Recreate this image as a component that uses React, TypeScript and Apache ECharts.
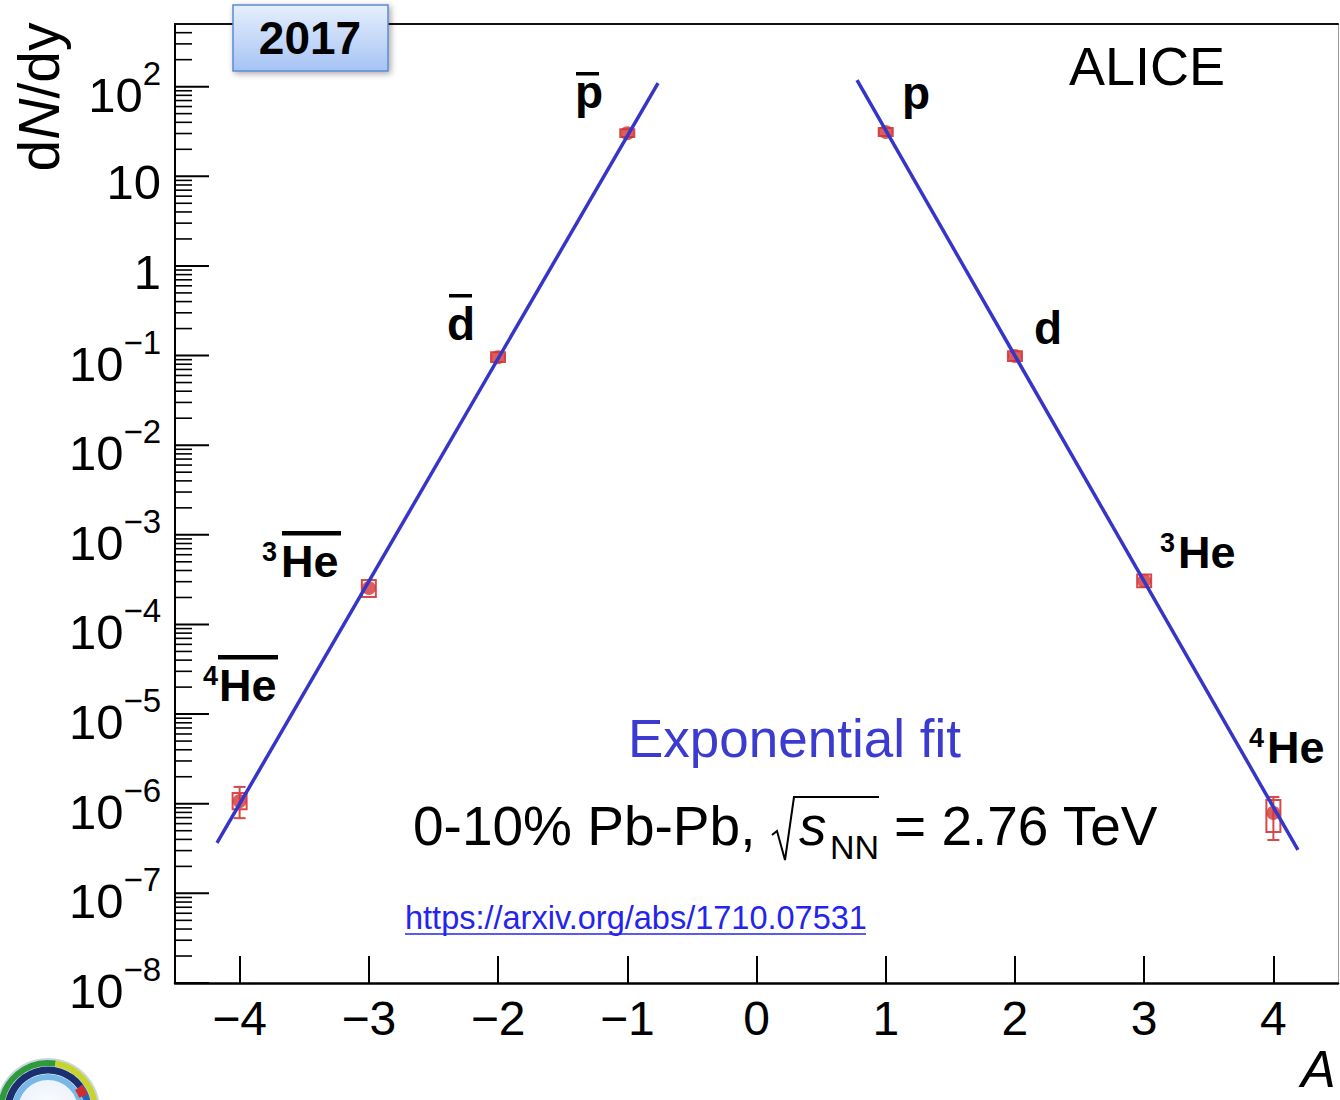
import React, { useEffect, useRef } from "react";
import * as echarts from "echarts";

const FONT = "'Liberation Sans', Arial, Helvetica, sans-serif";

// ---- axes ----
const xMin = -4.5;
const xMax = 4.5;
const xTicks = [-4, -3, -2, -1, 0, 1, 2, 3, 4];
const xTickLabels = ["−4", "−3", "−2", "−1", "0", "1", "2", "3", "4"];

const yMin = 1e-8;
const yMax = 500;
const yDecades = [1e-8, 1e-7, 1e-6, 1e-5, 1e-4, 1e-3, 1e-2, 1e-1, 1, 10, 100];
const yDecadeLabels = [
  "10{sup|−8}", "10{sup|−7}", "10{sup|−6}", "10{sup|−5}", "10{sup|−4}",
  "10{sup|−3}", "10{sup|−2}", "10{sup|−1}", "1", "10", "10{sup|2}",
];
const yMinorMultipliers = [2, 3, 4, 5, 6, 7, 8, 9];

// ---- data ----
const particleNames = ["4He-bar", "3He-bar", "d-bar", "p-bar", "p", "d", "3He", "4He"];
const massNumber = [-4, -3, -2, -1, 1, 2, 3, 4];
const dNdy = [1.07e-6, 2.55e-4, 0.096, 30.3, 31.2, 0.099, 3.06e-4, 7.9e-7];
const sysLow = [8.7e-7, 2.02e-4, 0.085, 27.5, 28.2, 0.087, 2.6e-4, 4.83e-7];
const sysHigh = [1.32e-6, 3.13e-4, 0.109, 33.5, 34.5, 0.112, 3.62e-4, 1.1e-6];
const statLow = [6.9e-7, null, null, null, null, null, null, 3.94e-7];
const statHigh = [1.54e-6, null, null, null, null, null, null, 1.19e-6];

// exponential fits (end points of the drawn fit lines)
const fitAntiA = [-4.175, -0.762];
const fitAntiY = [3.65e-7, 109.6];
const fitMatterA = [0.778, 4.19];
const fitMatterY = [118.5, 3.05e-7];

const RED = "#d23434";
const BLUE = "#3535c8";

export default function App() {
  const ref = useRef<HTMLDivElement>(null);

  useEffect(() => {
    document.body.style.margin = "0";
    const chart = echarts.init(ref.current!, null, { renderer: "svg" });

    const minorTicks: number[][] = [];
    yDecades.forEach((d) => {
      yMinorMultipliers.forEach((m) => {
        if (m * d < yMax) minorTicks.push([xMin, m * d]);
      });
    });

    const xLabel = (v: number) => {
      const r = Math.round(v);
      if (Math.abs(v - r) > 1e-6) return "";
      const i = xTicks.indexOf(r);
      return i >= 0 ? xTickLabels[i] : "";
    };

    const sysData = massNumber.map((a, i) => [a, sysLow[i], sysHigh[i]]);
    const statData = massNumber
      .map((a, i) => [a, statLow[i], statHigh[i]])
      .filter((d) => d[1] != null && d[2] != null);

    const T = (x: number, y: number, text: string, size: number, extra: any = {}) => ({
      type: "text",
      x,
      y,
      style: { text, fontSize: size, fontFamily: FONT, fill: "#000", verticalAlign: "middle", ...extra },
    });

    const option: any = {
      animation: false,
      backgroundColor: "#fff",
      grid: { left: 175, top: 24, width: 1163, height: 959, show: false },
      xAxis: [
        {
          type: "value",
          min: xMin,
          max: xMax,
          splitNumber: 9,
          position: "bottom",
          axisLine: { show: true, onZero: false, lineStyle: { color: "#000", width: 2.5 } },
          axisTick: {
            show: true,
            inside: true,
            length: 27,
            customValues: xTicks,
            lineStyle: { color: "#000", width: 2 },
          },
          axisLabel: {
            show: true,
            customValues: xTicks,
            formatter: xLabel,
            fontSize: 48,
            fontFamily: FONT,
            color: "#000",
            margin: 11,
          },
          splitLine: { show: false },
        },
        {
          type: "value",
          min: xMin,
          max: xMax,
          position: "top",
          axisLine: { show: true, onZero: false, lineStyle: { color: "#111", width: 2 } },
          axisTick: { show: false },
          axisLabel: { show: false },
          splitLine: { show: false },
        },
      ],
      yAxis: [
        {
          type: "log",
          logBase: 10,
          min: yMin,
          max: yMax,
          position: "left",
          axisLine: { show: true, onZero: false, lineStyle: { color: "#000", width: 2 } },
          axisTick: { show: false },
          axisLabel: { show: false },
          splitLine: { show: false },
          minorTick: { show: false },
          minorSplitLine: { show: false },
        },
        {
          type: "value",
          min: 0,
          max: 1,
          position: "right",
          axisLine: { show: true, onZero: false, lineStyle: { color: "#999", width: 1 } },
          axisTick: { show: false },
          axisLabel: { show: false },
          splitLine: { show: false },
        },
      ],
      series: [
        // minor ticks of log axis
        {
          type: "custom",
          xAxisIndex: 0,
          yAxisIndex: 0,
          silent: true,
          clip: false,
          z: 6,
          data: minorTicks,
          renderItem: (params: any, api: any) => {
            const p = api.coord([api.value(0), api.value(1)]);
            return {
              type: "line",
              shape: { x1: p[0], y1: p[1], x2: p[0] + 17, y2: p[1] },
              style: { stroke: "#000", lineWidth: 1.6 },
            };
          },
        },
        // major ticks + labels of log axis
        {
          type: "custom",
          xAxisIndex: 0,
          yAxisIndex: 0,
          silent: true,
          clip: false,
          z: 6,
          data: yDecades.map((v, i) => [xMin, v, i]),
          renderItem: (params: any, api: any) => {
            const p = api.coord([api.value(0), api.value(1)]);
            const label = yDecadeLabels[api.value(2)];
            const hasSup = label.indexOf("{sup") >= 0;
            return {
              type: "group",
              children: [
                {
                  type: "line",
                  shape: { x1: p[0], y1: p[1], x2: p[0] + 34, y2: p[1] },
                  style: { stroke: "#000", lineWidth: 2 },
                },
                {
                  type: "text",
                  x: p[0] - 14,
                  y: p[1] + (hasSup ? 8 : 6),
                  style: {
                    text: label,
                    fontSize: 49,
                    lineHeight: hasSup ? 76 : 49,
                    fontFamily: FONT,
                    fill: "#000",
                    align: "right",
                    verticalAlign: "middle",
                    rich: {
                      sup: {
                        fontSize: 33,
                        lineHeight: 33,
                        fontFamily: FONT,
                        fill: "#000",
                        verticalAlign: "top",
                      },
                    },
                  },
                },
              ],
            };
          },
        },
        // systematic boxes
        {
          type: "custom",
          name: "sys",
          xAxisIndex: 0,
          yAxisIndex: 0,
          silent: true,
          z: 3,
          data: sysData,
          renderItem: (params: any, api: any) => {
            const lo = api.coord([api.value(0), api.value(1)]);
            const hi = api.coord([api.value(0), api.value(2)]);
            const hw = 7;
            return {
              type: "rect",
              shape: { x: lo[0] - hw, y: hi[1], width: 2 * hw, height: lo[1] - hi[1] },
              style: { fill: "none", stroke: "#d84848", lineWidth: 2 },
            };
          },
        },
        // statistical error bars
        {
          type: "custom",
          name: "stat",
          xAxisIndex: 0,
          yAxisIndex: 0,
          silent: true,
          z: 3,
          data: statData,
          renderItem: (params: any, api: any) => {
            const lo = api.coord([api.value(0), api.value(1)]);
            const hi = api.coord([api.value(0), api.value(2)]);
            const cw = 6;
            const st = { stroke: "#d84848", lineWidth: 2 };
            return {
              type: "group",
              children: [
                { type: "line", shape: { x1: lo[0], y1: lo[1], x2: hi[0], y2: hi[1] }, style: st },
                { type: "line", shape: { x1: lo[0] - cw, y1: lo[1], x2: lo[0] + cw, y2: lo[1] }, style: st },
                { type: "line", shape: { x1: hi[0] - cw, y1: hi[1], x2: hi[0] + cw, y2: hi[1] }, style: st },
              ],
            };
          },
        },
        // data points
        {
          type: "scatter",
          name: "dN/dy",
          xAxisIndex: 0,
          yAxisIndex: 0,
          silent: true,
          z: 4,
          symbol: "circle",
          symbolSize: 14,
          itemStyle: { color: RED },
          data: massNumber.map((a, i) => [a, dNdy[i]]),
        },
        // fits
        {
          type: "line",
          name: "fit anti",
          xAxisIndex: 0,
          yAxisIndex: 0,
          silent: true,
          z: 5,
          symbol: "none",
          lineStyle: { color: BLUE, width: 3.5 },
          data: fitAntiA.map((a, i) => [a, fitAntiY[i]]),
        },
        {
          type: "line",
          name: "fit matter",
          xAxisIndex: 0,
          yAxisIndex: 0,
          silent: true,
          z: 5,
          symbol: "none",
          lineStyle: { color: BLUE, width: 3.5 },
          data: fitMatterA.map((a, i) => [a, fitMatterY[i]]),
        },
      ],
      graphic: [
        // y title
        {
          type: "text",
          x: 39,
          y: 97,
          rotation: Math.PI / 2,
          style: {
            text: "d{i|N}/dy",
            fontSize: 57,
            fontFamily: FONT,
            fill: "#000",
            align: "center",
            verticalAlign: "middle",
            rich: { i: { fontSize: 57, fontFamily: FONT, fontStyle: "italic", fill: "#000" } },
          },
        },
        // x title
        T(1301, 1069, "A", 52, { fontStyle: "italic", align: "left" }),
        // 2017 box
        {
          type: "rect",
          shape: { x: 233, y: 5, width: 155, height: 66 },
          style: {
            fill: new echarts.graphic.LinearGradient(0, 0, 0, 1, [
              { offset: 0, color: "#e6effd" },
              { offset: 1, color: "#a6c3f4" },
            ]),
            stroke: "#5b8bd4",
            lineWidth: 1.5,
            shadowBlur: 6,
            shadowColor: "rgba(0,0,0,0.35)",
            shadowOffsetX: 2,
            shadowOffsetY: 2,
          },
          z: 100,
        },
        { ...T(310, 38, "2017", 46, { fontWeight: "bold", align: "center" }), z: 101 },
        // ALICE
        T(1069, 66, "ALICE", 54),
        // particle labels
        T(575, 92, "p", 46, { fontWeight: "bold" }),
        { type: "rect", shape: { x: 576, y: 72, width: 23, height: 3.5 }, style: { fill: "#000" } },
        T(902, 93, "p", 46, { fontWeight: "bold" }),
        T(447, 324, "d", 46, { fontWeight: "bold" }),
        { type: "rect", shape: { x: 449, y: 294, width: 23, height: 3.5 }, style: { fill: "#000" } },
        T(1034, 328, "d", 46, { fontWeight: "bold" }),
        // anti-3He
        T(262, 552, "3", 27, { fontWeight: "bold" }),
        T(281, 561, "He", 45, { fontWeight: "bold" }),
        { type: "rect", shape: { x: 282, y: 531, width: 59, height: 4.5 }, style: { fill: "#000" } },
        // anti-4He
        T(203, 676, "4", 27, { fontWeight: "bold" }),
        T(219, 685, "He", 45, { fontWeight: "bold" }),
        { type: "rect", shape: { x: 218, y: 655, width: 60, height: 4.5 }, style: { fill: "#000" } },
        // 3He
        T(1160, 543, "3", 27, { fontWeight: "bold" }),
        T(1178, 552, "He", 45, { fontWeight: "bold" }),
        // 4He
        T(1249, 738, "4", 27, { fontWeight: "bold" }),
        T(1267, 747, "He", 45, { fontWeight: "bold" }),
        // Exponential fit
        T(628, 738, "Exponential fit", 53, { fill: "#3b3bd0" }),
        // collision system
        T(413, 826, "0-10% Pb-Pb,", 55),
        {
          type: "polyline",
          shape: { points: [[772, 835], [777, 831], [785, 860], [794, 797], [879, 797]] },
          style: { stroke: "#000", lineWidth: 2, fill: "none" },
        },
        T(799, 826, "s", 55, { fontStyle: "italic" }),
        T(830, 847, "NN", 34),
        T(894, 826, "= 2.76 TeV", 55),
        // URL
        T(405, 918, "https://arxiv.org/abs/1710.07531", 32.5, { fill: "#2424ee" }),
        { type: "line", shape: { x1: 405, y1: 934, x2: 866, y2: 934 }, style: { stroke: "#2424ee", lineWidth: 1.5 } },
        // logo (partial)
        {
          type: "circle",
          shape: { cx: 48, cy: 1110, r: 52 },
          style: {
            fill: new echarts.graphic.RadialGradient(0.5, 0.5, 0.5, [
              { offset: 0, color: "#ffffff" },
              { offset: 0.7, color: "#e8f0f8" },
              { offset: 1, color: "#c8d2dc" },
            ]),
          },
        },
        { type: "arc", shape: { cx: 48, cy: 1110, r: 47, startAngle: Math.PI, endAngle: Math.PI * 1.55 }, style: { stroke: "#2f9a3c", lineWidth: 6, fill: "none" } },
        { type: "arc", shape: { cx: 48, cy: 1110, r: 47, startAngle: Math.PI * 1.55, endAngle: Math.PI * 2 }, style: { stroke: "#c6d42e", lineWidth: 6, fill: "none" } },
        { type: "arc", shape: { cx: 48, cy: 1110, r: 40, startAngle: Math.PI, endAngle: Math.PI * 1.8 }, style: { stroke: "#1b2f70", lineWidth: 7, fill: "none" } },
        { type: "arc", shape: { cx: 48, cy: 1110, r: 40, startAngle: Math.PI * 1.8, endAngle: Math.PI * 2 }, style: { stroke: "#2a63b8", lineWidth: 7, fill: "none" } },
        { type: "arc", shape: { cx: 48, cy: 1110, r: 33, startAngle: Math.PI, endAngle: Math.PI * 2 }, style: { stroke: "#78b8e6", lineWidth: 6, fill: "none" } },
        { type: "arc", shape: { cx: 48, cy: 1110, r: 38, startAngle: Math.PI * 1.8, endAngle: Math.PI * 1.88 }, style: { stroke: "#d42a2a", lineWidth: 9, fill: "none" } },
      ],
    };

    chart.setOption(option);
    return () => chart.dispose();
  }, []);

  return (
    <div
      ref={ref}
      style={{ position: "absolute", left: 0, top: 0, width: 1340, height: 1100, background: "#fff" }}
    />
  );
}
